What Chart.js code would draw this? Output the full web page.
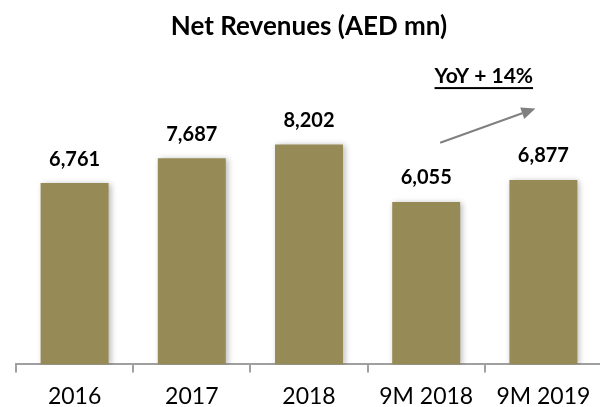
<!DOCTYPE html>
<html>
<head>
<meta charset="utf-8">
<script src="https://cdn.jsdelivr.net/npm/chart.js@4/dist/chart.umd.min.js"></script>
<style>
html,body{margin:0;padding:0;background:#fff;overflow:hidden;}
#wrap{width:602px;height:407px;position:relative;}
</style>
</head>
<body>
<div id="wrap"><canvas id="c"></canvas></div>
<script>
const categories = ["2016", "2017", "2018", "9M 2018", "9M 2019"];
const revenues = [6761, 7687, 8202, 6055, 6877];
const valueLabels = ["6,761", "7,687", "8,202", "6,055", "6,877"];
const titleText = "Net Revenues (AED mn)";
const growthText = "YoY + 14%";

const barColor = "#968B56";
const fontFam = "Lato, 'Liberation Sans', sans-serif";

const shadowPlugin = {
  id: 'barShadow',
  beforeDatasetsDraw(chart) {
    const ctx = chart.ctx;
    ctx.save();
    ctx.shadowColor = 'rgba(0,0,0,0.28)';
    ctx.shadowBlur = 6;
    ctx.shadowOffsetX = 2;
    ctx.shadowOffsetY = 1;
  },
  afterDatasetsDraw(chart) {
    chart.ctx.restore();
  }
};

const labelPlugin = {
  id: 'labels',
  afterDraw(chart) {
    const ctx = chart.ctx;
    const meta = chart.getDatasetMeta(0);
    const xs = chart.scales.x, ys = chart.scales.y;
    ctx.save();
    ctx.fillStyle = '#000';
    ctx.font = "bold 20px " + fontFam;
    ctx.textAlign = 'center';
    ctx.textBaseline = 'middle';
    meta.data.forEach((bar, i) => {
      ctx.fillText(valueLabels[i], bar.x, bar.y - 24);
    });
    // growth annotation between the two 9M bars
    const xa = xs.getPixelForValue(3), xb = xs.getPixelForValue(4);
    const sx = xa + 14, sy = ys.getPixelForValue(8265);
    const ex = xb - 8, ey = ys.getPixelForValue(9540);
    ctx.strokeStyle = '#808080';
    ctx.fillStyle = '#808080';
    ctx.lineWidth = 2;
    const ang = Math.atan2(ey - sy, ex - sx);
    const hl = 14, hw = 6;
    const bx = ex - hl * Math.cos(ang), by = ey - hl * Math.sin(ang);
    ctx.beginPath();
    ctx.moveTo(sx, sy);
    ctx.lineTo(bx, by);
    ctx.stroke();
    ctx.beginPath();
    ctx.moveTo(ex, ey);
    ctx.lineTo(bx + hw * Math.sin(ang), by - hw * Math.cos(ang));
    ctx.lineTo(bx - hw * Math.sin(ang), by + hw * Math.cos(ang));
    ctx.closePath();
    ctx.fill();
    // text
    const tx = (xa + xb) / 2 - 1, ty = ys.getPixelForValue(10750);
    ctx.fillStyle = '#000';
    ctx.font = "bold 21px " + fontFam;
    ctx.fillText(growthText, tx, ty);
    const w = ctx.measureText(growthText).width;
    ctx.fillRect(tx - w / 2, ty + 11, w, 2);
    ctx.restore();
  }
};

new Chart(document.getElementById('c'), {
  type: 'bar',
  data: {
    labels: categories,
    datasets: [{
      data: revenues,
      backgroundColor: barColor,
      borderWidth: 0,
      barPercentage: 0.58,
      categoryPercentage: 1.0
    }]
  },
  options: {
    responsive: true,
    maintainAspectRatio: false,
    animation: false,
    layout: { padding: { top: 0, bottom: -13, left: 16, right: 0 } },
    plugins: {
      legend: { display: false },
      tooltip: { enabled: false },
      title: {
        display: true,
        text: titleText,
        color: '#000',
        font: { family: fontFam, size: 26, weight: 'bold' },
        padding: { top: 11, bottom: 54 }
      }
    },
    scales: {
      y: {
        display: false,
        min: 0,
        max: 10000
      },
      x: {
        border: { display: true, color: '#a0a0a0', width: 2 },
        grid: {
          display: true,
          offset: true,
          drawOnChartArea: false,
          drawTicks: true,
          tickLength: 8,
          color: '#a0a0a0',
          lineWidth: 2
        },
        ticks: {
          color: '#000',
          padding: 10,
          font: { family: fontFam, size: 23 }
        }
      }
    }
  },
  plugins: [shadowPlugin, labelPlugin]
});
</script>
</body>
</html>
